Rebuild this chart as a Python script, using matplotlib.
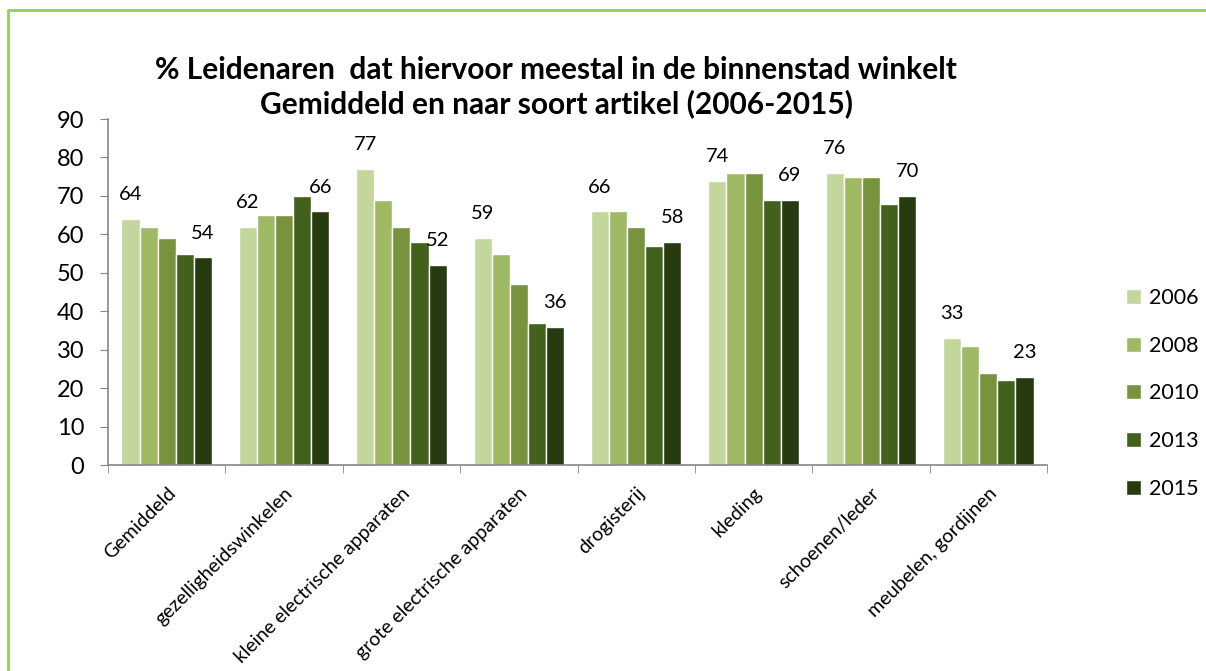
import numpy as np
import matplotlib
matplotlib.use('Agg')
import matplotlib.pyplot as plt
from matplotlib.lines import Line2D
from matplotlib.patches import Patch

plt.rcParams['font.family'] = ['Lato', 'DejaVu Sans']

categories = ["Gemiddeld", "gezelligheidswinkelen", "kleine electrische apparaten",
              "grote electrische apparaten", "drogisterij", "kleding",
              "schoenen/leder", "meubelen, gordijnen"]
years = ["2006", "2008", "2010", "2013", "2015"]
v2006 = [64, 62, 77, 59, 66, 74, 76, 33]
v2008 = [62, 65, 69, 55, 66, 76, 75, 31]
v2010 = [59, 65, 62, 47, 62, 76, 75, 24]
v2013 = [55, 70, 58, 37, 57, 69, 68, 22]
v2015 = [54, 66, 52, 36, 58, 69, 70, 23]
series = [v2006, v2008, v2010, v2013, v2015]
colors = ['#C3D69B', '#9FB965', '#77933C', '#42611A', '#263B0F']

fig = plt.figure(figsize=(12.06, 6.71), dpi=100)
ax = fig.add_axes([108 / 1206, 1 - 465 / 671, (1047 - 108) / 1206, (465 - 119) / 671])

x = np.arange(len(categories))
w = 0.154
for i, (vals, c) in enumerate(zip(series, colors)):
    bars = ax.bar(x + (i - 2) * w, vals, width=w, color=c, edgecolor='white',
                  linewidth=1.0, label=years[i], zorder=2)
    # only first and last year get value labels
    if i in (0, 4):
        for xi, v in zip(x + (i - 2) * w, vals):
            ax.text(xi, v + 6.3, str(v), ha='center', va='center', fontsize=14.5)

ax.set_xlim(-0.5, len(categories) - 0.5)
ax.set_ylim(0, 90)
ax.set_yticks(np.arange(0, 91, 10))
ax.tick_params(axis='y', labelsize=17, length=6, color='#868686', pad=11)
ax.set_xticks(x)
ax.set_xticklabels(categories, rotation=45, ha='right', rotation_mode='anchor', fontsize=14)
ax.tick_params(axis='x', which='major', length=0, pad=14)
ax.set_xticks(np.arange(-0.5, len(categories)), minor=True)
ax.tick_params(axis='x', which='minor', length=6, color='#868686')
for s in ['top', 'right']:
    ax.spines[s].set_visible(False)
for s in ['left', 'bottom']:
    ax.spines[s].set_color('#868686')
    ax.spines[s].set_linewidth(1.2)

fig.text(556 / 1206, 1 - 87 / 671,
         "% Leidenaren  dat hiervoor meestal in de binnenstad winkelt\nGemiddeld en naar soort artikel (2006-2015)",
         ha='center', va='center', fontsize=21.5, fontweight='bold', linespacing=1.25)

handles = [Patch(facecolor=c, edgecolor='white', label=y) for c, y in zip(colors, years)]
fig.legend(handles=handles, loc='upper left', bbox_to_anchor=(1107 / 1206, 1 - 269 / 671),
           frameon=False, fontsize=15.5, handlelength=0.7, handleheight=0.7,
           handletextpad=0.35, labelspacing=1.28)

# green frame (top and left only)
fig.add_artist(Line2D([8 / 1206, 8 / 1206, 1], [0, 1 - 10 / 671, 1 - 10 / 671],
                      transform=fig.transFigure, color='#92D050', lw=2))

fig.savefig('out.png', dpi=100)
